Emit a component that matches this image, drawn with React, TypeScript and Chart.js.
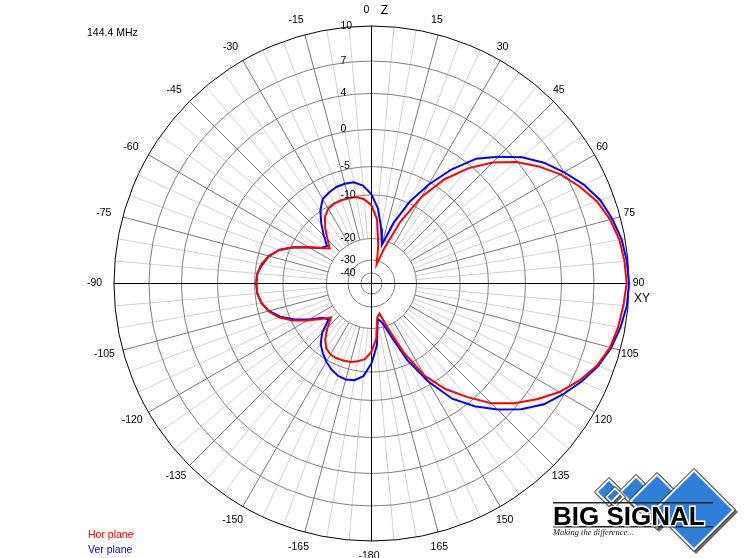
import { useEffect, useRef } from "react";
import { Chart, registerables } from "chart.js";

Chart.register(...registerables);

const FREQUENCY_LABEL = "144.4 MHz";
const SERIES_NAMES = ["Hor plane", "Ver plane"];
const SERIES_COLORS = ["#ff0000", "#0000ff"];

// azimuth of each sample, degrees clockwise from Z (top)
const ANGLES = [
  0, 5, 10, 15, 20, 25, 30, 35, 40, 45, 50, 55, 60, 65, 70, 75, 80, 85,
  90, 95, 100, 105, 110, 115, 120, 125, 130, 135, 140, 145, 150, 155, 160, 165, 170, 175,
  180, 185, 190, 195, 200, 205, 210, 215, 220, 225, 230, 235, 240, 245, 250, 255, 260, 265,
  270, 275, 280, 285, 290, 295, 300, 305, 310, 315, 320, 325, 330, 335, 340, 345, 350, 355,
];

// gain in dB
const HOR_PLANE_DB = [
  -12.4, -15.6, -22.8, -32.7, -23.3, -14.7, -8.0, -3.6, -0.5, 1.9, 3.9, 5.3, 6.6, 7.6, 8.5, 9.1, 9.5, 9.7,
  9.8, 9.6, 9.4, 9.1, 8.5, 7.6, 6.5, 5.1, 3.6, 1.7, -0.8, -3.4, -6.8, -12.9, -19.5, -26.5, -25.1, -17.7,
  -14.7, -12.9, -12.2, -11.7, -11.5, -11.4, -11.5, -12.2, -13.8, -16.1, -18.2, -16.1, -13.3, -10.3, -8.2, -6.8, -5.9, -5.4,
  -5.3, -5.4, -5.9, -6.9, -8.3, -10.6, -13.6, -16.1, -17.8, -16.1, -13.8, -11.7, -10.5, -10.1, -10.0, -10.1, -10.2, -10.9,
];

const VER_PLANE_DB = [
  -9.9, -13.1, -17.5, -22.3, -15.6, -9.7, -5.5, -2.0, 1.0, 2.8, 4.6, 5.9, 7.0, 8.0, 8.8, 9.3, 9.7, 9.9,
  10.0, 9.9, 9.6, 9.2, 8.6, 7.8, 6.9, 5.9, 4.5, 2.7, 0.7, -1.8, -5.7, -11.0, -17.7, -22.3, -24.2, -16.1,
  -12.0, -9.2, -8.3, -8.1, -8.3, -8.9, -9.7, -10.8, -12.2, -14.3, -17.5, -16.6, -13.8, -10.8, -8.5, -6.9, -5.9, -5.4,
  -5.3, -5.4, -6.1, -6.9, -8.3, -10.6, -13.8, -16.1, -17.0, -14.9, -12.4, -9.9, -8.4, -7.9, -7.5, -7.4, -7.5, -8.3,
];

// radial (dB) rings of the log-like scale and their relative radius
const RING_DB = [10, 7, 4, 0, -5, -10, -20, -30, -40];
const RING_FRACTION = [1, 0.864, 0.738, 0.598, 0.454, 0.344, 0.175, 0.091, 0.041];
const RING_LABELS = ["10", "7", "4", "0", "-5", "-10", "-20", "-30", "-40"];

// labelled azimuth ticks
const ANGLE_TICKS = [0, 15, 30, 45, 60, 75, 90, 105, 120, 135, 150, 165, 180, 195, 210, 225, 240, 255, 270, 285, 300, 315, 330, 345];

const FONT = '"Liberation Sans", Arial, sans-serif';

function dbToRadius(db: number): number {
  if (db >= RING_DB[0]) return RING_FRACTION[0];
  for (let i = 0; i < RING_DB.length - 1; i++) {
    const hi = RING_DB[i];
    const lo = RING_DB[i + 1];
    if (db <= hi && db >= lo) {
      const t = (db - lo) / (hi - lo);
      return RING_FRACTION[i + 1] + t * (RING_FRACTION[i] - RING_FRACTION[i + 1]);
    }
  }
  const last = RING_FRACTION[RING_FRACTION.length - 1];
  return Math.max(0, (last * (db + 50)) / 10);
}

function angleText(a: number): string {
  return a >= 180 ? String(a - 360) : String(a);
}

function toPoints(dbs: number[]) {
  const pts = ANGLES.map((a, i) => {
    const r = dbToRadius(dbs[i]);
    const t = (a * Math.PI) / 180;
    return { x: r * Math.sin(t), y: r * Math.cos(t) };
  });
  pts.push(pts[0]);
  return pts;
}

function geometry(chart: any) {
  const xs = chart.scales.x;
  const ys = chart.scales.y;
  const cx = xs.getPixelForValue(0);
  const cy = ys.getPixelForValue(0);
  const R = xs.getPixelForValue(1) - cx;
  return { cx, cy, R };
}

function diamond(ctx: CanvasRenderingContext2D, x: number, y: number, h: number) {
  ctx.beginPath();
  ctx.moveTo(x, y - h);
  ctx.lineTo(x + h, y);
  ctx.lineTo(x, y + h);
  ctx.lineTo(x - h, y);
  ctx.closePath();
}

const polarGrid = {
  id: "polarGrid",
  beforeDatasetsDraw(chart: any) {
    const ctx: CanvasRenderingContext2D = chart.ctx;
    const { cx, cy, R } = geometry(chart);
    const inner = dbToRadius(-20) * R;
    ctx.save();
    ctx.lineWidth = 1;
    // spokes
    for (const pass of [0, 1]) {
      for (const a of ANGLES) {
        if (a % 90 === 0) continue;
        const major = a % 15 === 0;
        if ((pass === 0) === major) continue;
        const t = (a * Math.PI) / 180;
        ctx.strokeStyle = major ? "#777777" : "#d2d2d2";
        ctx.beginPath();
        ctx.moveTo(cx + inner * Math.sin(t), cy - inner * Math.cos(t));
        ctx.lineTo(cx + R * Math.sin(t), cy - R * Math.cos(t));
        ctx.stroke();
      }
    }
    // rings
    RING_FRACTION.forEach((f, i) => {
      ctx.strokeStyle = i === 0 ? "#000000" : "#808080";
      ctx.beginPath();
      ctx.arc(cx, cy, f * R, 0, Math.PI * 2);
      ctx.stroke();
    });
    // axes
    ctx.strokeStyle = "#000000";
    ctx.beginPath();
    ctx.moveTo(cx - R, cy);
    ctx.lineTo(cx + R, cy);
    ctx.moveTo(cx, cy - R);
    ctx.lineTo(cx, cy + R);
    ctx.stroke();
    ctx.restore();
  },
  afterDatasetsDraw(chart: any) {
    const ctx: CanvasRenderingContext2D = chart.ctx;
    const { cx, cy, R } = geometry(chart);
    ctx.save();
    ctx.fillStyle = "#000000";
    ctx.font = `10.5px ${FONT}`;
    ctx.textBaseline = "middle";
    // radial labels
    ctx.textAlign = "left";
    RING_FRACTION.forEach((f, i) => {
      ctx.fillText(RING_LABELS[i], cx - 31, cy - f * R);
    });
    // azimuth labels
    ctx.textAlign = "center";
    const rx = R * (266 / 257.5);
    const ry = R * (273 / 257.5);
    for (const a of ANGLE_TICKS) {
      const t = (a * Math.PI) / 180;
      const s = Math.sin(t);
      const c = Math.cos(t);
      const dx = -5 + 6 * s - 2.5 * Math.min(0, c);
      ctx.fillText(angleText(a), cx + rx * s + dx, cy - ry * c);
    }
    // axis names
    ctx.font = `12px ${FONT}`;
    ctx.fillText("Z", cx + 13, cy - R - 15);
    ctx.fillText("XY", cx + R + 13, cy + 15);
    // frequency + legend
    ctx.font = `10.5px ${FONT}`;
    ctx.textAlign = "left";
    ctx.fillText(FREQUENCY_LABEL, 87, 33);
    ctx.fillStyle = SERIES_COLORS[0];
    ctx.fillText(SERIES_NAMES[0], 88, 535);
    ctx.fillStyle = SERIES_COLORS[1];
    ctx.fillText(SERIES_NAMES[1], 88, 550);
    ctx.restore();
  },
  afterDraw(chart: any) {
    const ctx: CanvasRenderingContext2D = chart.ctx;
    ctx.save();
    const marks: [number, number, number][] = [
      [609, 492, 14],
      [636, 492, 17],
      [657, 501, 28],
      [694, 510, 41],
    ];
    for (const [x, y, h] of marks) {
      ctx.fillStyle = "#6b6b6b";
      diamond(ctx, x + 2, y + 2, h + 1);
      ctx.fill();
      ctx.fillStyle = "#1c1c1c";
      diamond(ctx, x, y, h + 1);
      ctx.fill();
      ctx.fillStyle = "#ffffff";
      diamond(ctx, x, y, h);
      ctx.fill();
      ctx.fillStyle = "#2f7fd8";
      diamond(ctx, x, y, h - 3);
      ctx.fill();
    }
    ctx.strokeStyle = "#ffffff";
    ctx.lineWidth = 2;
    diamond(ctx, 615, 497, 9);
    ctx.stroke();
    ctx.strokeStyle = "#1c1c1c";
    ctx.lineWidth = 1;
    diamond(ctx, 615, 497, 10.5);
    ctx.stroke();
    // rules
    ctx.fillStyle = "#222222";
    ctx.fillRect(553, 502, 160, 1.5);
    ctx.fillRect(553, 526, 160, 1.5);
    // name
    ctx.font = `bold 26px ${FONT}`;
    ctx.textAlign = "left";
    ctx.textBaseline = "alphabetic";
    ctx.lineWidth = 3;
    ctx.strokeStyle = "#ffffff";
    ctx.strokeText("BIG SIGNAL", 553, 525);
    ctx.fillStyle = "#000000";
    ctx.fillText("BIG SIGNAL", 553, 525);
    ctx.font = `italic 8.5px "Liberation Serif", serif`;
    ctx.fillStyle = "#222222";
    ctx.fillText("Making the difference...", 553, 535);
    ctx.restore();
  },
};

const X_MIN = -371.5 / 257.5;
const X_MAX = (745 - 371.5) / 257.5;
const Y_MAX = 283.5 / 257.5;
const Y_MIN = -(558 - 283.5) / 257.5;

export default function App() {
  const ref = useRef<HTMLCanvasElement | null>(null);
  useEffect(() => {
    if (!ref.current) return;
    const chart = new Chart(ref.current, {
      type: "scatter",
      data: {
        datasets: [
          {
            label: SERIES_NAMES[0],
            data: toPoints(HOR_PLANE_DB),
            showLine: true,
            borderColor: SERIES_COLORS[0],
            backgroundColor: SERIES_COLORS[0],
            borderWidth: 2,
            pointRadius: 0,
            tension: 0,
            clip: false as any,
          },
          {
            label: SERIES_NAMES[1],
            data: toPoints(VER_PLANE_DB),
            showLine: true,
            borderColor: SERIES_COLORS[1],
            backgroundColor: SERIES_COLORS[1],
            borderWidth: 2,
            pointRadius: 0,
            tension: 0,
            clip: false as any,
          },
        ],
      },
      options: {
        responsive: false,
        animation: false,
        events: [],
        layout: { padding: 0 },
        scales: {
          x: { type: "linear", display: false, min: X_MIN, max: X_MAX },
          y: { type: "linear", display: false, min: Y_MIN, max: Y_MAX },
        },
        plugins: { legend: { display: false }, tooltip: { enabled: false } },
      },
      plugins: [polarGrid],
    });
    return () => chart.destroy();
  }, []);
  return (
    <div style={{ position: "absolute", left: 0, top: 0, width: 745, height: 558, background: "#ffffff" }}>
      <canvas ref={ref} width={745} height={558} />
    </div>
  );
}
